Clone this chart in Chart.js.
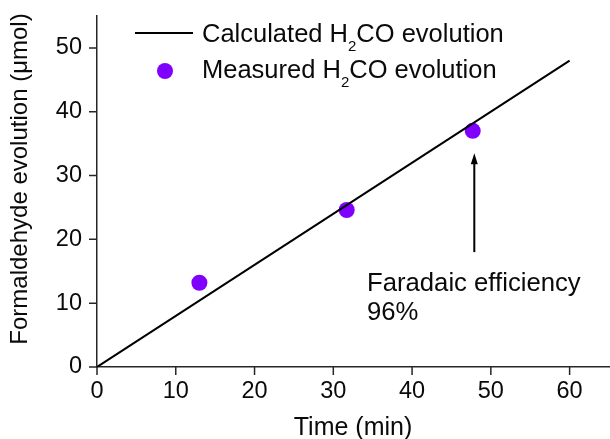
<!DOCTYPE html>
<html>
<head>
<meta charset="utf-8">
<script src="https://cdn.jsdelivr.net/npm/chart.js@4"></script>
<style>
  html, body { margin: 0; padding: 0; background: #fff; }
  #wrap { width: 610px; height: 439px; }
</style>
</head>
<body>
<div id="wrap"><canvas id="chart" width="610" height="439"></canvas></div>
<script>
// calculated line (Faradaic 100%)
const calcTime = [0, 60]
const calcH2CO = [0, 48]

// measured points
const measTime = [13, 31.7, 47.7]
const measH2CO = [13.2, 24.6, 37.0]

// arrow under the last point
const arrowTime = 47.9
const arrowFrom = 18
const arrowTo = 33.5

const xTitle = "Time (min)"
const yTitle = "Formaldehyde evolution (\u03bcmol)"
const noteLines = ["Faradaic efficiency", "96%"]
// legend labels split around the subscript
const calcLabel = ["Calculated H", "2", "CO evolution"]
const measLabel = ["Measured H", "2", "CO evolution"]

const axisColor = "#262626"
const pointColor = "#7f00ff"
const textColor = "#0a0a0a"
const fontFamily = "'Liberation Sans', Arial, sans-serif"

Chart.defaults.font.family = fontFamily
Chart.defaults.color = textColor

const toPoints = (xs, ys) => xs.map((v, i) => ({ x: v, y: ys[i] }))

// no extra room for edge labels, the frame is fixed
const clearPadding = (scale) => {
  scale.paddingTop = 0
  scale.paddingBottom = 0
  scale.paddingLeft = 0
  scale.paddingRight = 0
}

// draws a label with a subscript part
const drawSubText = (ctx, parts, x, y, size) => {
  ctx.textAlign = "left"
  ctx.textBaseline = "alphabetic"
  ctx.font = `${size}px ${fontFamily}`
  ctx.fillText(parts[0], x, y)
  x += ctx.measureText(parts[0]).width
  const subSize = Math.round(size * 0.6)
  ctx.font = `${subSize}px ${fontFamily}`
  ctx.fillText(parts[1], x, y + 9)
  x += ctx.measureText(parts[1]).width
  ctx.font = `${size}px ${fontFamily}`
  ctx.fillText(parts[2], x, y)
}

const decor = {
  id: "decor",
  afterDraw(chart) {
    const { ctx, chartArea: area, scales } = chart
    const sx = scales.x
    const sy = scales.y
    ctx.save()

    // major / minor tick marks, outside
    ctx.strokeStyle = axisColor
    ctx.lineWidth = 1.5
    ctx.beginPath()
    sx.ticks.forEach((t) => {
      const px = sx.getPixelForValue(t.value)
      const len = t.value % 10 === 0 ? 8 : 4
      ctx.moveTo(px, area.bottom)
      ctx.lineTo(px, area.bottom + len)
    })
    sy.ticks.forEach((t) => {
      const py = sy.getPixelForValue(t.value)
      const len = t.value % 10 === 0 ? 8 : 4
      ctx.moveTo(area.left, py)
      ctx.lineTo(area.left - len, py)
    })
    ctx.stroke()

    // axis titles
    ctx.fillStyle = textColor
    ctx.font = `25px ${fontFamily}`
    ctx.textAlign = "center"
    ctx.textBaseline = "alphabetic"
    ctx.fillText(xTitle, (area.left + area.right) / 2, area.bottom + 68)
    ctx.font = `24px ${fontFamily}`
    ctx.save()
    ctx.translate(area.left - 70, area.top + 163)
    ctx.rotate(-Math.PI / 2)
    ctx.fillText(yTitle, 0, 0)
    ctx.restore()

    // legend
    const lx = area.left + 38
    ctx.strokeStyle = "#000"
    ctx.lineWidth = 2
    ctx.beginPath()
    ctx.moveTo(lx, area.top + 17)
    ctx.lineTo(lx + 58, area.top + 17)
    ctx.stroke()
    ctx.fillStyle = pointColor
    ctx.beginPath()
    ctx.arc(lx + 30, area.top + 55, 8, 0, Math.PI * 2)
    ctx.fill()
    ctx.fillStyle = textColor
    drawSubText(ctx, calcLabel, lx + 67, area.top + 26, 25.5)
    drawSubText(ctx, measLabel, lx + 67, area.top + 62, 25.5)

    // arrow
    const ax = sx.getPixelForValue(arrowTime)
    const ay0 = sy.getPixelForValue(arrowFrom)
    const ay1 = sy.getPixelForValue(arrowTo)
    ctx.strokeStyle = "#000"
    ctx.lineWidth = 2
    ctx.beginPath()
    ctx.moveTo(ax, ay0)
    ctx.lineTo(ax, ay1 + 8)
    ctx.stroke()
    ctx.fillStyle = "#000"
    ctx.beginPath()
    ctx.moveTo(ax, ay1)
    ctx.lineTo(ax - 3.5, ay1 + 11)
    ctx.lineTo(ax + 3.5, ay1 + 11)
    ctx.closePath()
    ctx.fill()

    // annotation
    ctx.fillStyle = textColor
    ctx.font = `25.7px ${fontFamily}`
    ctx.textAlign = "left"
    ctx.fillText(noteLines[0], area.left + 270, area.top + 275)
    ctx.fillText(noteLines[1], area.left + 270, area.top + 304)

    ctx.restore()
  },
}

new Chart(document.getElementById("chart"), {
  type: "scatter",
  data: {
    datasets: [
      {
        label: "Calculated H\u2082CO evolution",
        data: toPoints(calcTime, calcH2CO),
        showLine: true,
        borderColor: "#000",
        borderWidth: 2,
        pointRadius: 0,
      },
      {
        label: "Measured H\u2082CO evolution",
        data: toPoints(measTime, measH2CO),
        pointRadius: 8,
        pointBackgroundColor: pointColor,
        pointBorderWidth: 0,
        borderColor: pointColor,
      },
    ],
  },
  options: {
    responsive: false,
    animation: false,
    layout: { autoPadding: false, padding: { top: 16, right: 1, left: 0, bottom: 0 } },
    plugins: {
      legend: { display: false },
      tooltip: { enabled: false },
    },
    scales: {
      x: {
        type: "linear",
        min: 0,
        max: 65,
        afterFit: (scale) => {
          scale.height = 72
          clearPadding(scale)
        },
        ticks: {
          stepSize: 5,
          autoSkip: false,
          maxRotation: 0,
          padding: 10,
          color: textColor,
          font: { size: 23.5 },
          callback: (v) => (v % 10 === 0 && v <= 60 ? v : null),
        },
        grid: { drawOnChartArea: false, drawTicks: false },
        border: { display: true, color: axisColor, width: 1.5 },
      },
      y: {
        type: "linear",
        min: 0,
        max: 55,
        afterFit: (scale) => {
          scale.width = 97
          clearPadding(scale)
        },
        ticks: {
          stepSize: 5,
          autoSkip: false,
          padding: 15,
          color: textColor,
          font: { size: 23.5 },
          callback: (v) => (v % 10 === 0 && v <= 50 ? v : null),
        },
        grid: { drawOnChartArea: false, drawTicks: false },
        border: { display: true, color: axisColor, width: 1.5 },
      },
    },
  },
  plugins: [decor],
})
</script>
</body>
</html>
